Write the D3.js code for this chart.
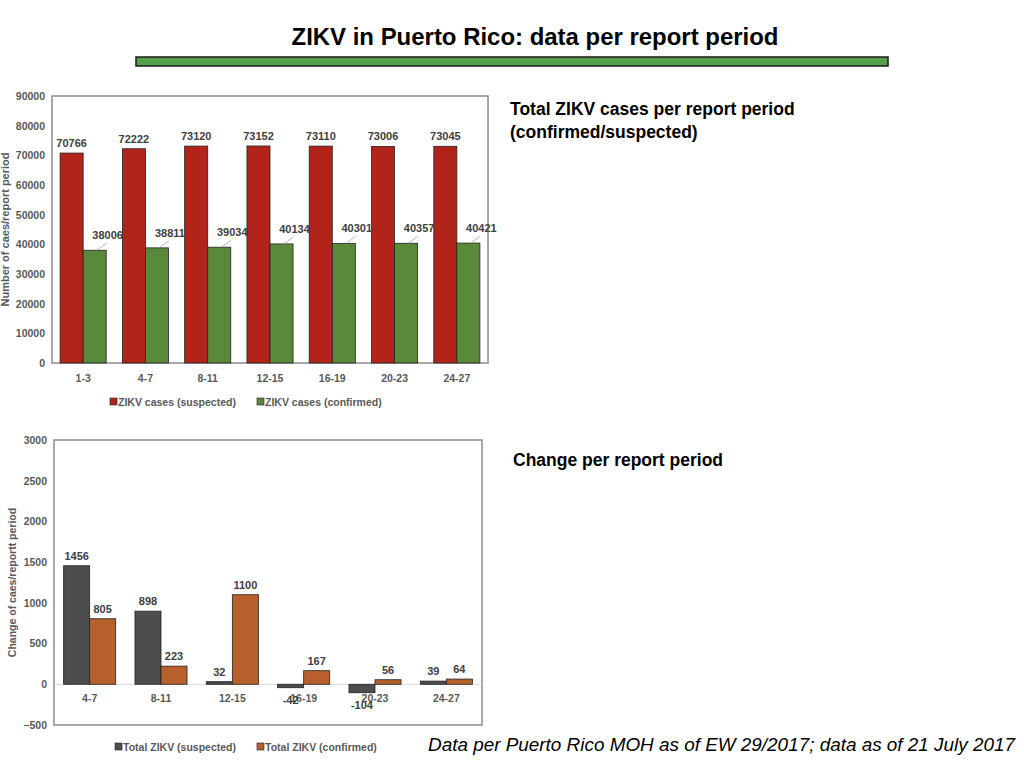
<!DOCTYPE html>
<html>
<head>
<meta charset="utf-8">
<script src="https://cdn.jsdelivr.net/npm/d3@7"></script>
<style>
  body { margin: 0; background: #fff; }
  svg { display: block; font-family: "Liberation Sans", Arial, sans-serif; }
</style>
</head>
<body>
<div id="chart"></div>
<script>
// top chart: totals per report period
const periods = ["1-3", "4-7", "8-11", "12-15", "16-19", "20-23", "24-27"];
const suspected = [70766, 72222, 73120, 73152, 73110, 73006, 73045];
const confirmed = [38006, 38811, 39034, 40134, 40301, 40357, 40421];
const totalTicks = [0, 10000, 20000, 30000, 40000, 50000, 60000, 70000, 80000, 90000];

// bottom chart: change per report period
const changePeriods = ["4-7", "8-11", "12-15", "16-19", "20-23", "24-27"];
const changeSuspected = [1456, 898, 32, -42, -104, 39];
const changeConfirmed = [805, 223, 1100, 167, 56, 64];
const changeTicks = [-500, 0, 500, 1000, 1500, 2000, 2500, 3000];

const W = 1024, H = 768;
const svg = d3.select("#chart").append("svg")
    .attr("width", W)
    .attr("height", H);

// title + green rule
svg.append("text")
    .attr("x", 535).attr("y", 45)
    .attr("text-anchor", "middle")
    .attr("font-size", 24).attr("font-weight", "bold")
    .attr("textLength", 487).attr("lengthAdjust", "spacingAndGlyphs")
    .attr("fill", "#000")
    .text("ZIKV in Puerto Rico: data per report period");

svg.append("rect")
    .attr("x", 136).attr("y", 57)
    .attr("width", 752).attr("height", 9)
    .attr("fill", "#55a04a")
    .attr("stroke", "#1a1a1a").attr("stroke-width", 1.5);

function barChart(opt) {
    const g = svg.append("g");
    const x = d3.scaleBand()
        .domain(opt.cats)
        .range([opt.left, opt.right])
        .paddingInner(opt.pad)
        .paddingOuter(opt.pad / 2);
    const x1 = d3.scaleBand()
        .domain([0, 1])
        .range([0, x.bandwidth()]);
    const y = d3.scaleLinear()
        .domain(opt.domain)
        .range([opt.bottom, opt.top]);

    // frame
    g.append("rect")
        .attr("x", opt.left).attr("y", opt.top)
        .attr("width", opt.right - opt.left)
        .attr("height", opt.bottom - opt.top)
        .attr("fill", "none")
        .attr("stroke", "#8c8c8c").attr("stroke-width", 1.5);

    if (opt.domain[0] < 0) {
        g.append("line")
            .attr("x1", opt.left).attr("x2", opt.right)
            .attr("y1", y(0)).attr("y2", y(0))
            .attr("stroke", "#d9d9d9").attr("stroke-width", 1);
    }

    // y axis
    const yAxis = g.append("g")
        .attr("transform", `translate(${opt.left},0)`)
        .call(d3.axisLeft(y).tickValues(opt.ticks).tickSize(0).tickPadding(7).tickFormat(d3.format("d")));
    yAxis.select(".domain").remove();
    yAxis.selectAll("text")
        .attr("font-size", 10.5).attr("font-weight", "bold")
        .attr("fill", "#595959")
        .attr("font-family", "Liberation Sans, Arial, sans-serif");

    // category labels
    g.selectAll(".cat").data(opt.cats).enter().append("text")
        .attr("x", d => x(d) + x.bandwidth() / 2)
        .attr("y", opt.catY)
        .attr("text-anchor", "middle")
        .attr("font-size", 10.5).attr("font-weight", "bold")
        .attr("fill", "#595959")
        .text(d => d);

    // y title
    g.append("text")
        .attr("transform", `translate(${opt.titleX},${(opt.top + opt.bottom) / 2}) rotate(-90)`)
        .attr("text-anchor", "middle")
        .attr("font-size", opt.titleSize).attr("font-weight", "bold")
        .attr("fill", "#595959")
        .text(opt.yTitle);

    opt.series.forEach((s, si) => {
        const bars = g.append("g");
        bars.selectAll("rect").data(s.values).enter().append("rect")
            .attr("x", (d, i) => x(opt.cats[i]) + x1(si))
            .attr("y", d => y(Math.max(0, d)))
            .attr("width", x1.bandwidth())
            .attr("height", d => Math.abs(y(d) - y(0)))
            .attr("fill", s.color)
            .attr("stroke", "#222").attr("stroke-width", 0.8);

        const cx = (i) => x(opt.cats[i]) + x1(si) + x1.bandwidth() / 2;
        if (s.leader) {
            bars.selectAll("line").data(s.values).enter().append("line")
                .attr("x1", (d, i) => cx(i) + 2).attr("y1", d => y(d))
                .attr("x2", (d, i) => cx(i) + 12).attr("y2", d => y(d) - 7)
                .attr("stroke", "#a6a6a6").attr("stroke-width", 0.8);
        }
        bars.selectAll("text").data(s.values).enter().append("text")
            .attr("x", (d, i) => cx(i) + (s.leader ? 13 : 0))
            .attr("y", d => d < 0 ? y(d) + 16 : y(d) - (s.leader ? 11 : 6))
            .attr("text-anchor", "middle")
            .attr("font-size", 11).attr("font-weight", "bold")
            .attr("fill", "#404040")
            .text(d => d);
    });

    // legend
    opt.series.forEach((s, si) => {
        const lx = opt.legendX[si];
        g.append("rect")
            .attr("x", lx).attr("y", opt.legendY - 8)
            .attr("width", 7).attr("height", 7)
            .attr("fill", s.color)
            .attr("stroke", "#222").attr("stroke-width", 0.6);
        g.append("text")
            .attr("x", lx + 8).attr("y", opt.legendY)
            .attr("font-size", 10.5).attr("font-weight", "bold")
            .attr("fill", "#595959")
            .text(s.name);
    });
}

barChart({
    cats: periods,
    left: 52, right: 488, top: 96, bottom: 363,
    pad: 0.26,
    domain: [0, 90000],
    ticks: totalTicks,
    catY: 382,
    titleX: 9, titleSize: 11,
    yTitle: "Number of caes/report period",
    legendX: [110, 257], legendY: 406,
    series: [
        { name: "ZIKV cases (suspected)", values: suspected, color: "#b2231a", leader: false },
        { name: "ZIKV cases (confirmed)", values: confirmed, color: "#5b893a", leader: true }
    ]
});

barChart({
    cats: changePeriods,
    left: 54, right: 482, top: 440, bottom: 725,
    pad: 0.27,
    domain: [-500, 3000],
    ticks: changeTicks,
    catY: 702,
    titleX: 16, titleSize: 10.5,
    yTitle: "Change of caes/reportt period",
    legendX: [115, 257], legendY: 751,
    series: [
        { name: "Total ZIKV (suspected)", values: changeSuspected, color: "#4d4d4d", leader: false },
        { name: "Total ZIKV (confirmed)", values: changeConfirmed, color: "#b8602b", leader: false }
    ]
});

// side headings
const heads = [
    { t: "Total ZIKV cases per report period", x: 510, y: 115 },
    { t: "(confirmed/suspected)", x: 510, y: 138 },
    { t: "Change per report period", x: 513, y: 466 }
];
svg.selectAll(".head").data(heads).enter().append("text")
    .attr("x", d => d.x).attr("y", d => d.y)
    .attr("font-size", 17.5).attr("font-weight", "bold")
    .attr("fill", "#000")
    .text(d => d.t);

// footer
svg.append("text")
    .attr("x", 428).attr("y", 751)
    .attr("font-size", 18).attr("font-style", "italic")
    .attr("textLength", 587).attr("lengthAdjust", "spacingAndGlyphs")
    .attr("fill", "#000")
    .text("Data per Puerto Rico MOH as of EW 29/2017; data as of 21 July 2017");
</script>
</body>
</html>
